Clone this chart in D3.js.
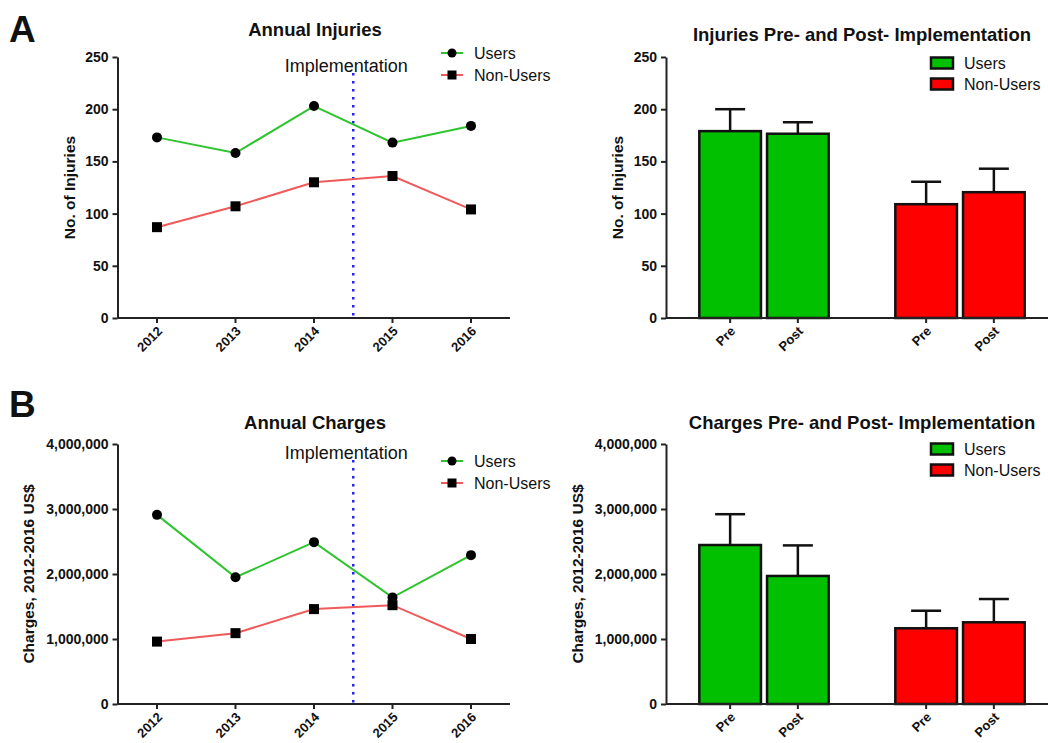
<!DOCTYPE html>
<html>
<head>
<meta charset="utf-8">
<script src="https://cdn.jsdelivr.net/npm/d3@7"></script>
<style>
  body { margin: 0; background: #fff; }
  text { font-family: "Liberation Sans", Arial, sans-serif; fill: #111; }
</style>
</head>
<body>
<script>
// data
var years = [2012, 2013, 2014, 2015, 2016];
var injuriesUsers = [173, 158, 203, 168, 184];
var injuriesNonUsers = [87, 107, 130, 136, 104];
var chargesUsers = [2910000, 1950000, 2490000, 1640000, 2290000];
var chargesNonUsers = [960000, 1090000, 1460000, 1520000, 1000000];

var groups = ["Users", "Non-Users"];
var periods = ["Pre", "Post"];
var injuriesMean = [[179, 176.5], [109, 120.5]];
var injuriesErrTop = [[200, 187.5], [130.5, 143]];
var chargesMean = [[2446000, 1970000], [1165000, 1257000]];
var chargesErrTop = [[2920000, 2440000], [1435000, 1615000]];

var injuryTicks = [0, 50, 100, 150, 200, 250];
var chargeTicks = [0, 1000000, 2000000, 3000000, 4000000];

var lineColors = { "Users": "#2ec42e", "Non-Users": "#f05a5a" };
var barColors = { "Users": "#00c000", "Non-Users": "#ff0000" };

var svg = d3.select("body").append("svg")
  .attr("width", 1048)
  .attr("height", 743);

function styleAxis(a) {
  a.selectAll("path.domain").attr("stroke", "#222").attr("stroke-width", 2);
  a.selectAll(".tick line").attr("stroke", "#222").attr("stroke-width", 2);
}

function yAxis(p, y, ticks, fmt) {
  var a = svg.append("g")
    .attr("transform", "translate(" + p.left + ",0)")
    .call(d3.axisLeft(y).tickValues(ticks).tickSize(5).tickSizeOuter(0).tickPadding(4).tickFormat(fmt));
  a.selectAll(".tick text")
    .style("font-size", "14px").style("font-weight", "bold").attr("fill", "#111");
  styleAxis(a);

  svg.append("text")
    .attr("transform", "translate(" + p.ylabX + "," + ((p.top + p.bottom) / 2) + ") rotate(-90)")
    .attr("text-anchor", "middle")
    .attr("dy", "0.35em")
    .style("font-size", "15.5px").style("font-weight", "bold")
    .text(p.ylab);
}

function xAxis(p, xpos, labels) {
  var g = svg.append("g");
  g.append("line")
    .attr("x1", p.left).attr("x2", p.right)
    .attr("y1", p.bottom).attr("y2", p.bottom)
    .attr("stroke", "#222").attr("stroke-width", 2);
  labels.forEach(function(l, i) {
    var x = xpos[i];
    g.append("line")
      .attr("x1", x).attr("x2", x)
      .attr("y1", p.bottom).attr("y2", p.bottom + 5)
      .attr("stroke", "#222").attr("stroke-width", 2);
    g.append("text")
      .attr("transform", "translate(" + (x + 6) + "," + (p.bottom + 14) + ") rotate(-45)")
      .attr("text-anchor", "end")
      .style("font-size", "13px").style("font-weight", "bold")
      .text(l);
  });
}

function title(x, y, t) {
  svg.append("text")
    .attr("x", x).attr("y", y)
    .attr("text-anchor", "middle")
    .style("font-size", "18.5px").style("font-weight", "bold")
    .text(t);
}

function lineChart(p) {
  var y = d3.scaleLinear().domain([0, p.ticks[p.ticks.length - 1]]).range([p.bottom, p.top]);
  var x = d3.scalePoint().domain(years).range([p.x0, p.x1]);

  title(p.titleX, p.titleY, p.title);

  // implementation line between 2014 and 2015
  var ix = (x(2014) + x(2015)) / 2;
  svg.append("line")
    .attr("x1", ix).attr("x2", ix)
    .attr("y1", p.implTop).attr("y2", p.bottom)
    .attr("stroke", "#2222ee").attr("stroke-width", 2.5)
    .attr("stroke-dasharray", "2.5,5.5");
  svg.append("text")
    .attr("x", ix - 7).attr("y", p.implTop - 1)
    .attr("text-anchor", "middle")
    .style("font-size", "18px")
    .attr("fill", "#333")
    .text("Implementation");

  yAxis(p, y, p.ticks, p.fmt);
  xAxis(p, years.map(function(d) { return x(d); }), years);

  var line = d3.line()
    .x(function(d, i) { return x(years[i]); })
    .y(function(d) { return y(d); });

  p.series.forEach(function(s) {
    svg.append("path")
      .attr("d", line(s.values))
      .attr("fill", "none")
      .attr("stroke", lineColors[s.name])
      .attr("stroke-width", 2);
  });
  p.series.forEach(function(s) {
    s.values.forEach(function(v, i) {
      if (s.name == "Users") {
        svg.append("circle")
          .attr("cx", x(years[i])).attr("cy", y(v)).attr("r", 5)
          .attr("fill", "#000");
      } else {
        svg.append("rect")
          .attr("x", x(years[i]) - 5).attr("y", y(v) - 5)
          .attr("width", 10).attr("height", 10)
          .attr("fill", "#000");
      }
    });
  });

  // legend
  p.series.forEach(function(s, i) {
    var ly = p.legY + i * 22;
    svg.append("line")
      .attr("x1", 441).attr("x2", 463).attr("y1", ly).attr("y2", ly)
      .attr("stroke", lineColors[s.name]).attr("stroke-width", 2);
    if (s.name == "Users") {
      svg.append("circle").attr("cx", 452).attr("cy", ly).attr("r", 4.5).attr("fill", "#000");
    } else {
      svg.append("rect").attr("x", 447.5).attr("y", ly - 4.5).attr("width", 9).attr("height", 9).attr("fill", "#000");
    }
    svg.append("text")
      .attr("x", 474).attr("y", ly).attr("dy", "0.35em")
      .style("font-size", "16px").attr("fill", "#222")
      .text(s.name);
  });
}

function barChart(p) {
  var y = d3.scaleLinear().domain([0, p.ticks[p.ticks.length - 1]]).range([p.bottom, p.top]);
  var outer = d3.scaleBand().domain(groups).range([p.left, 1058]).paddingInner(0.34).paddingOuter(0.17);
  var inner = d3.scaleBand().domain(periods).range([0, outer.bandwidth()]).paddingInner(0.09);

  title(p.titleX, p.titleY, p.title);

  groups.forEach(function(g, gi) {
    periods.forEach(function(per, pi) {
      var bx = outer(g) + inner(per);
      var bw = inner.bandwidth();
      var cx = bx + bw / 2;
      var top = y(p.means[gi][pi]);
      svg.append("line")
        .attr("x1", cx).attr("x2", cx)
        .attr("y1", top).attr("y2", y(p.errTop[gi][pi]))
        .attr("stroke", "#111").attr("stroke-width", 2.5);
      svg.append("line")
        .attr("x1", cx - 15).attr("x2", cx + 15)
        .attr("y1", y(p.errTop[gi][pi])).attr("y2", y(p.errTop[gi][pi]))
        .attr("stroke", "#111").attr("stroke-width", 2.5);
      svg.append("rect")
        .attr("x", bx).attr("y", top)
        .attr("width", bw).attr("height", p.bottom - top)
        .attr("fill", barColors[g])
        .attr("stroke", "#111").attr("stroke-width", 2.5);
    });
  });

  yAxis(p, y, p.ticks, p.fmt);
  var xs = [], labs = [];
  groups.forEach(function(g) {
    periods.forEach(function(per) {
      xs.push(outer(g) + inner(per) + inner.bandwidth() / 2);
      labs.push(per);
    });
  });
  xAxis(p, xs, labs);

  groups.forEach(function(g, i) {
    var ly = p.legY + i * 21;
    svg.append("rect")
      .attr("x", 931).attr("y", ly - 5.5).attr("width", 22).attr("height", 11)
      .attr("fill", barColors[g]).attr("stroke", "#111").attr("stroke-width", 2.5);
    svg.append("text")
      .attr("x", 964).attr("y", ly).attr("dy", "0.35em")
      .style("font-size", "16px").attr("fill", "#222")
      .text(g);
  });
}

var fmtPlain = d3.format("d");
var fmtComma = d3.format(",");

lineChart({
  left: 117.5, right: 510, top: 57, bottom: 318, x0: 157, x1: 471,
  ticks: injuryTicks, fmt: fmtPlain, ylab: "No. of Injuries", ylabX: 70,
  title: "Annual Injuries", titleX: 315, titleY: 36, implTop: 73, legY: 53,
  series: [{ name: "Users", values: injuriesUsers }, { name: "Non-Users", values: injuriesNonUsers }]
});

barChart({
  left: 666, right: 1048, top: 57, bottom: 318,
  ticks: injuryTicks, fmt: fmtPlain, ylab: "No. of Injuries", ylabX: 618,
  title: "Injuries Pre- and Post- Implementation", titleX: 862, titleY: 41, legY: 63,
  means: injuriesMean, errTop: injuriesErrTop
});

lineChart({
  left: 117.5, right: 510, top: 444, bottom: 704, x0: 157, x1: 471,
  ticks: chargeTicks, fmt: fmtComma, ylab: "Charges, 2012-2016 US$", ylabX: 29,
  title: "Annual Charges", titleX: 315, titleY: 429, implTop: 460, legY: 461,
  series: [{ name: "Users", values: chargesUsers }, { name: "Non-Users", values: chargesNonUsers }]
});

barChart({
  left: 666, right: 1048, top: 444, bottom: 704,
  ticks: chargeTicks, fmt: fmtComma, ylab: "Charges, 2012-2016 US$", ylabX: 578,
  title: "Charges Pre- and Post- Implementation", titleX: 862, titleY: 429, legY: 449,
  means: chargesMean, errTop: chargesErrTop
});

// panel letters
svg.append("text").attr("x", 9).attr("y", 42)
  .style("font-size", "37px").style("font-weight", "bold").text("A");
svg.append("text").attr("x", 9).attr("y", 417)
  .style("font-size", "37px").style("font-weight", "bold").text("B");
</script>
</body>
</html>
